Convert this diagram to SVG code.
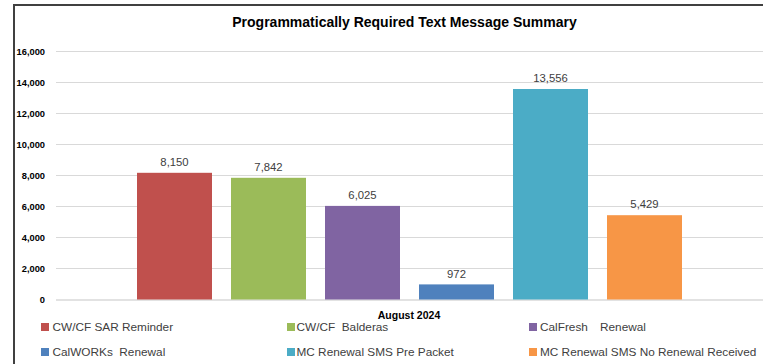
<svg xmlns="http://www.w3.org/2000/svg" width="763" height="364" viewBox="0 0 763 364">
<style>
.grid{stroke:#D9D9D9;stroke-width:1;fill:none}
.ax{font-family:"Liberation Sans",Arial,sans-serif;font-weight:bold;font-size:9.3px;fill:#000;text-anchor:end}
.val{font-family:"Liberation Sans",Arial,sans-serif;font-size:11.3px;fill:#404040;text-anchor:middle}
.leg{font-family:"Liberation Sans",Arial,sans-serif;font-size:11.8px;fill:#404040}
.title{font-family:"Liberation Sans",Arial,sans-serif;font-weight:bold;font-size:14px;fill:#000;text-anchor:middle}
.cat{font-family:"Liberation Sans",Arial,sans-serif;font-weight:bold;font-size:10.5px;fill:#000;text-anchor:middle}
</style>
<rect x="0" y="0" width="763" height="364" fill="#fff"/>
<path d="M14 364 V5 H763" fill="none" stroke="#404040" stroke-width="2"/>
<text class="title" x="404.5" y="27">Programmatically Required Text Message Summary</text>
<g id="axis">
<path class="grid" d="M56 51.5H763M56 82.5H763M56 113.5H763M56 144.5H763M56 175.5H763M56 206.5H763M56 237.5H763M56 268.5H763"/>
<path d="M56 300H763" stroke="#D9D9D9" stroke-width="1.5"/>
<text class="ax" x="45" y="54.5">16,000</text>
<text class="ax" x="45" y="85.5">14,000</text>
<text class="ax" x="45" y="116.5">12,000</text>
<text class="ax" x="45" y="147.5">10,000</text>
<text class="ax" x="45" y="178.5">8,000</text>
<text class="ax" x="45" y="209.5">6,000</text>
<text class="ax" x="45" y="240.5">4,000</text>
<text class="ax" x="45" y="271.5">2,000</text>
<text class="ax" x="45" y="303">0</text>
<text class="cat" x="409" y="319.3">August 2024</text>
</g>
<g id="bar-sar"><rect x="137" y="172.8" width="75" height="126.7" fill="#C0504D"/><text class="val" x="174.5" y="166">8,150</text></g>
<g id="bar-balderas"><rect x="231" y="177.8" width="75" height="121.7" fill="#9BBB59"/><text class="val" x="268.5" y="171">7,842</text></g>
<g id="bar-calfresh"><rect x="325" y="205.9" width="75" height="93.6" fill="#8064A2"/><text class="val" x="362.5" y="199">6,025</text></g>
<g id="bar-calworks"><rect x="419" y="284.4" width="75" height="15.1" fill="#4F81BD"/><text class="val" x="456.5" y="277.5">972</text></g>
<g id="bar-prepacket"><rect x="513" y="89" width="75" height="210.5" fill="#4BACC6"/><text class="val" x="550.5" y="82.3">13,556</text></g>
<g id="bar-norenewal"><rect x="607" y="215.2" width="75" height="84.3" fill="#F79646"/><text class="val" x="644.5" y="208.3">5,429</text></g>
<g id="legend">
<rect x="41" y="323" width="8" height="8" fill="#C0504D"/><text class="leg" x="52.5" y="331">CW/CF SAR Reminder</text>
<rect x="287" y="323" width="8" height="8" fill="#9BBB59"/><text class="leg" x="296.5" y="331" xml:space="preserve">CW/CF  Balderas</text>
<rect x="529" y="323" width="8" height="8" fill="#8064A2"/><text class="leg" x="540" y="331">CalFresh<tspan x="600">Renewal</tspan></text>
<rect x="41" y="348" width="8" height="8" fill="#4F81BD"/><text class="leg" x="52.5" y="356" xml:space="preserve">CalWORKs  Renewal</text>
<rect x="287" y="348" width="8" height="8" fill="#4BACC6"/><text class="leg" x="296.5" y="356">MC Renewal SMS Pre Packet</text>
<rect x="529" y="348" width="8" height="8" fill="#F79646"/><text class="leg" x="540" y="356">MC Renewal SMS No Renewal Received</text>
</g>
</svg>
